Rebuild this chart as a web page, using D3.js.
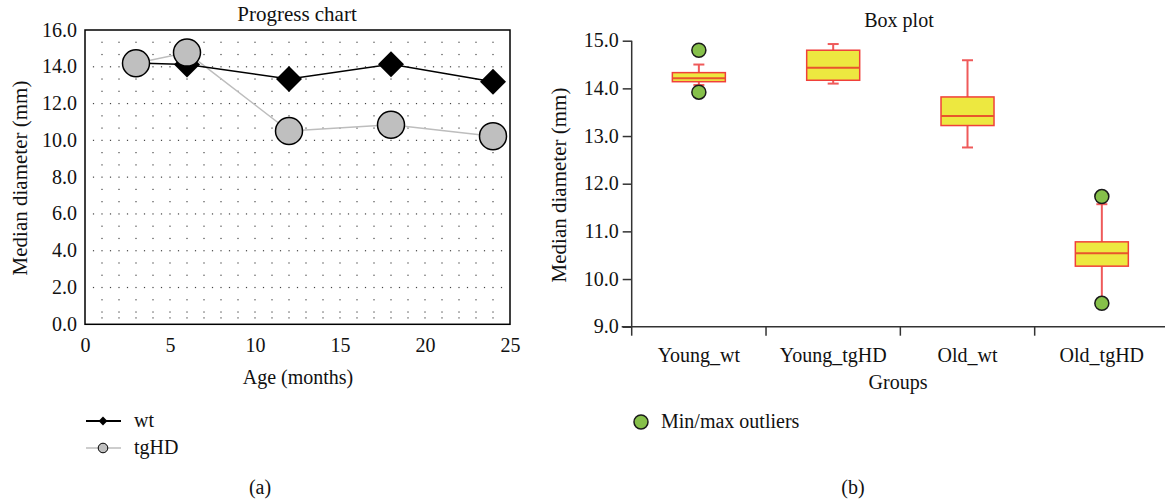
<!DOCTYPE html>
<html>
<head>
<meta charset="utf-8">
<script src="https://cdn.jsdelivr.net/npm/d3@7"></script>
<style>
  body { margin: 0; background: #fff; }
  svg { display: block; font-family: "Liberation Serif", "Times New Roman", serif; }
  text { fill: #111; }
</style>
</head>
<body>
<div id="main-chart"></div>
<script>
// progress chart data
var ages = [3, 6, 12, 18, 24];
var wtValues = [14.2, 14.12, 13.34, 14.14, 13.19];
var tgValues = [14.19, 14.77, 10.51, 10.85, 10.23];
var progressTicksX = [0, 5, 10, 15, 20, 25];
var progressTicksY = [0, 2, 4, 6, 8, 10, 12, 14, 16];

// box plot data
var groups = ["Young_wt", "Young_tgHD", "Old_wt", "Old_tgHD"];
var whiskerLow = [14.07, 14.10, 12.76, 9.55];
var q1 = [14.14, 14.17, 13.22, 10.27];
var medians = [14.21, 14.43, 13.42, 10.54];
var q3 = [14.33, 14.80, 13.82, 10.78];
var whiskerHigh = [14.50, 14.93, 14.59, 11.57];
var outlierMin = [13.92, null, null, 9.49];
var outlierMax = [14.80, null, null, 11.73];
var boxTicksY = [9, 10, 11, 12, 13, 14, 15];

var width = 1165, height = 500;
var svg = d3.select("#main-chart").append("svg")
  .attr("width", width)
  .attr("height", height);

function progressChart() {
  var x = d3.scaleLinear().domain([0, 25]).range([85, 510]);
  var y = d3.scaleLinear().domain([0, 16]).range([324.3, 30]);
  var g = svg.append("g").attr("class", "progress");

  // dotted grid
  var grid = g.append("g").attr("fill", "#444");
  var months = d3.range(1, 25);
  var rows = d3.range(1, 24).map(function(i) { return i * 2 / 3; });
  rows.forEach(function(r) {
    var major = Math.abs(r / 2 - Math.round(r / 2)) < 1e-6;
    var cols = major ? d3.range(1, 50).map(function(k) { return k / 2; }) : months;
    grid.selectAll(null).data(cols).enter().append("rect")
      .attr("x", function(d) { return x(d) - 0.6; })
      .attr("y", y(r) - 0.6)
      .attr("width", 1.2)
      .attr("height", 1.2);
  });
  // bottom row of dots just above the frame
  grid.selectAll(null).data(months).enter().append("rect")
    .attr("x", function(d) { return x(d) - 0.6; })
    .attr("y", y(0) - 7)
    .attr("width", 1.2)
    .attr("height", 1.2);

  // frame
  g.append("rect")
    .attr("x", x(0)).attr("y", y(16))
    .attr("width", x(25) - x(0)).attr("height", y(0) - y(16))
    .attr("fill", "none").attr("stroke", "#000").attr("stroke-width", 1.5);

  var yAxis = d3.axisLeft(y).tickValues(progressTicksY).tickSize(0).tickPadding(8)
    .tickFormat(d3.format(".1f"));
  g.append("g").attr("transform", "translate(" + x(0) + ",0)").call(yAxis)
    .attr("font-family", null).attr("font-size", 20)
    .call(function(s) { s.select(".domain").remove(); })
    .selectAll("text").attr("dy", "0.3em");

  var xAxis = d3.axisBottom(x).tickValues(progressTicksX).tickSize(0).tickPadding(14);
  g.append("g").attr("transform", "translate(0," + y(0) + ")").call(xAxis)
    .attr("font-family", null).attr("font-size", 20)
    .call(function(s) { s.select(".domain").remove(); })
    .selectAll("text").attr("dy", "0.71em");

  var line = d3.line()
    .x(function(d, i) { return x(ages[i]); })
    .y(function(d) { return y(d); });

  g.append("path").datum(tgValues).attr("d", line)
    .attr("fill", "none").attr("stroke", "#bdbdbd").attr("stroke-width", 1.5);
  g.append("path").datum(wtValues).attr("d", line)
    .attr("fill", "none").attr("stroke", "#000").attr("stroke-width", 1.5);

  var diamond = d3.symbol().type(d3.symbolDiamond2).size(430);
  g.selectAll("path.wt").data(wtValues).enter().append("path")
    .attr("class", "wt")
    .attr("d", diamond)
    .attr("transform", function(d, i) { return "translate(" + x(ages[i]) + "," + y(d) + ")"; })
    .attr("fill", "#000");

  g.selectAll("circle.tg").data(tgValues).enter().append("circle")
    .attr("class", "tg")
    .attr("cx", function(d, i) { return x(ages[i]); })
    .attr("cy", function(d) { return y(d); })
    .attr("r", 13.5)
    .attr("fill", "#bfbfbf").attr("stroke", "#000").attr("stroke-width", 1.5);

  g.append("text").attr("x", 297).attr("y", 21).attr("text-anchor", "middle")
    .attr("font-size", 21).text("Progress chart");
  g.append("text").attr("x", 298).attr("y", 384).attr("text-anchor", "middle")
    .attr("font-size", 20).text("Age (months)");
  g.append("text").attr("transform", "translate(27,178) rotate(-90)")
    .attr("text-anchor", "middle").attr("font-size", 21).text("Median diameter (mm)");

  // legend
  var lg = g.append("g");
  lg.append("line").attr("x1", 86).attr("x2", 121).attr("y1", 421).attr("y2", 421)
    .attr("stroke", "#000").attr("stroke-width", 2);
  lg.append("path").attr("d", d3.symbol().type(d3.symbolDiamond2).size(50))
    .attr("transform", "translate(103,421)").attr("fill", "#000");
  lg.append("text").attr("x", 134).attr("y", 427).attr("font-size", 20).text("wt");
  lg.append("line").attr("x1", 86).attr("x2", 121).attr("y1", 448).attr("y2", 448)
    .attr("stroke", "#bdbdbd").attr("stroke-width", 1.5);
  lg.append("circle").attr("cx", 103).attr("cy", 448).attr("r", 4.8)
    .attr("fill", "#bfbfbf").attr("stroke", "#000").attr("stroke-width", 1);
  lg.append("text").attr("x", 134).attr("y", 454).attr("font-size", 20).text("tgHD");

  g.append("text").attr("x", 260).attr("y", 494).attr("text-anchor", "middle")
    .attr("font-size", 20).text("(a)");
}

function boxPlot() {
  var x = d3.scaleBand().domain(groups).range([631.7, 1169]);
  var y = d3.scaleLinear().domain([9, 15]).range([326.7, 40.7]);
  var g = svg.append("g").attr("class", "boxplot");
  var bw = 53, cap = 11;

  var yAxis = d3.axisLeft(y).tickValues(boxTicksY).tickSize(9).tickPadding(4)
    .tickFormat(d3.format(".1f"));
  var ya = g.append("g").attr("transform", "translate(" + x.range()[0] + ",0)").call(yAxis)
    .attr("font-family", null).attr("font-size", 20);
  ya.select(".domain").attr("stroke", "#333").attr("stroke-width", 1.5)
    .attr("d", "M0," + y(15) + "V" + y(9));
  ya.selectAll(".tick line").attr("stroke", "#333").attr("stroke-width", 1.5);
  ya.selectAll("text").attr("dy", "0.3em");

  var xAxis = d3.axisBottom(x).tickSize(9).tickFormat(function(d) { return d; });
  var xa = g.append("g").attr("transform", "translate(0," + y(9) + ")").call(xAxis)
    .attr("font-family", null).attr("font-size", 20);
  xa.select(".domain").attr("stroke", "#333").attr("stroke-width", 1.5)
    .attr("d", "M" + (x.range()[0] - 10) + ",0H" + x.range()[1]);
  xa.selectAll(".tick line").attr("stroke", "#333").attr("stroke-width", 1.5)
    .attr("transform", function() { return "translate(" + (-x.bandwidth() / 2) + ",0)"; });
  xa.selectAll("text").attr("y", 21).attr("dy", "0.71em");

  var boxes = g.selectAll("g.box").data(groups).enter().append("g")
    .attr("class", "box")
    .attr("transform", function(d) { return "translate(" + (x(d) + x.bandwidth() / 2) + ",0)"; });

  boxes.append("line")
    .attr("y1", function(d, i) { return y(whiskerLow[i]); })
    .attr("y2", function(d, i) { return y(whiskerHigh[i]); })
    .attr("stroke", "#ef5a5a").attr("stroke-width", 2);
  boxes.append("line").attr("x1", -cap / 2).attr("x2", cap / 2)
    .attr("y1", function(d, i) { return y(whiskerHigh[i]); })
    .attr("y2", function(d, i) { return y(whiskerHigh[i]); })
    .attr("stroke", "#ef5a5a").attr("stroke-width", 2);
  boxes.append("line").attr("x1", -cap / 2).attr("x2", cap / 2)
    .attr("y1", function(d, i) { return y(whiskerLow[i]); })
    .attr("y2", function(d, i) { return y(whiskerLow[i]); })
    .attr("stroke", "#ef5a5a").attr("stroke-width", 2);
  boxes.append("rect").attr("x", -bw / 2).attr("width", bw)
    .attr("y", function(d, i) { return y(q3[i]); })
    .attr("height", function(d, i) { return y(q1[i]) - y(q3[i]); })
    .attr("fill", "#ede840").attr("stroke", "#f0403a").attr("stroke-width", 1.5);
  boxes.append("line").attr("x1", -bw / 2).attr("x2", bw / 2)
    .attr("y1", function(d, i) { return y(medians[i]); })
    .attr("y2", function(d, i) { return y(medians[i]); })
    .attr("stroke", "#e8552c").attr("stroke-width", 2);

  [outlierMin, outlierMax].forEach(function(arr) {
    boxes.filter(function(d, i) { return arr[i] != null; }).append("circle")
      .attr("cy", function(d) { return y(arr[groups.indexOf(d)]); })
      .attr("r", 7)
      .attr("fill", "#86c04a").attr("stroke", "#1a1a1a").attr("stroke-width", 1.5);
  });

  g.append("text").attr("x", 899).attr("y", 27).attr("text-anchor", "middle")
    .attr("font-size", 20).text("Box plot");
  g.append("text").attr("x", 898).attr("y", 389).attr("text-anchor", "middle")
    .attr("font-size", 20).text("Groups");
  g.append("text").attr("transform", "translate(566,185) rotate(-90)")
    .attr("text-anchor", "middle").attr("font-size", 21).text("Median diameter (mm)");

  g.append("circle").attr("cx", 641).attr("cy", 422).attr("r", 7)
    .attr("fill", "#86c04a").attr("stroke", "#1a1a1a").attr("stroke-width", 1.5);
  g.append("text").attr("x", 661).attr("y", 427.5).attr("font-size", 20).text("Min/max outliers");

  g.append("text").attr("x", 853).attr("y", 494).attr("text-anchor", "middle")
    .attr("font-size", 20).text("(b)");
}

progressChart();
boxPlot();
</script>
</body>
</html>
